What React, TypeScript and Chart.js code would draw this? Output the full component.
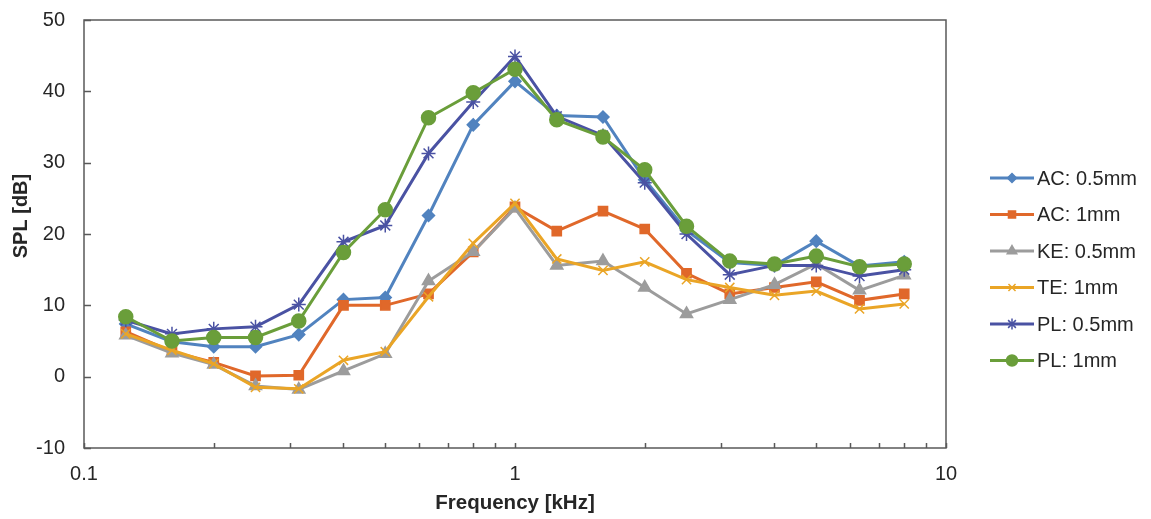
import React, { useEffect, useRef } from "react";
import { Chart, registerables } from "chart.js";
import { drawPoint } from "chart.js/helpers";

Chart.register(...registerables);

// ---- data ----
const FREQS = [0.125, 0.16, 0.2, 0.25, 0.315, 0.4, 0.5, 0.63, 0.8, 1, 1.25, 1.6, 2, 2.5, 3.15, 4, 5, 6.3, 8];
const AC_05 = [7.4, 4.9, 4.2, 4.2, 5.9, 10.8, 11.1, 22.6, 35.3, 41.4, 36.6, 36.4, 27.6, 20.5, 16.0, 15.6, 19.0, 15.5, 16.1];
const AC_1 = [6.3, 3.5, 2.0, 0.1, 0.2, 10.0, 10.0, 11.6, 17.5, 23.8, 20.4, 23.2, 20.7, 14.5, 11.6, 12.5, 13.3, 10.7, 11.6];
const KE_05 = [5.8, 3.3, 1.7, -1.3, -1.8, 0.8, 3.2, 13.4, 17.5, 23.6, 15.6, 16.2, 12.5, 8.8, 10.8, 12.9, 15.8, 12.1, 14.2];
const TE_1 = [6.0, 3.7, 1.8, -1.5, -1.7, 2.3, 3.5, 11.2, 18.7, 24.3, 16.5, 14.9, 16.1, 13.6, 12.5, 11.4, 12.0, 9.5, 10.2];
const PL_05 = [7.9, 6.0, 6.7, 7.0, 10.1, 18.9, 21.2, 31.3, 38.5, 44.9, 36.5, 33.8, 27.2, 20.0, 14.3, 15.6, 15.6, 14.1, 15.0];
const PL_1 = [8.4, 5.0, 5.5, 5.5, 7.8, 17.4, 23.4, 36.3, 39.8, 43.1, 36.0, 33.6, 29.0, 21.1, 16.2, 15.8, 16.9, 15.4, 15.8];

const SERIES_NAMES = ["AC: 0.5mm", "AC: 1mm", "KE: 0.5mm", "TE: 1mm", "PL: 0.5mm", "PL: 1mm"];
const SERIES_VALUES = [AC_05, AC_1, KE_05, TE_1, PL_05, PL_1];

const X_MAJOR_TICKS = [0.1, 1, 10];
const X_MINOR_TICKS = [0.2, 0.3, 0.4, 0.5, 0.6, 0.7, 0.8, 0.9, 2, 3, 4, 5, 6, 7, 8, 9];
const Y_MIN = -10;
const Y_MAX = 50;
const Y_STEP = 10;

const X_TITLE = "Frequency [kHz]";
const Y_TITLE = "SPL [dB]";

// ---- styles ----
const COLORS = ["#5183BF", "#E0682A", "#9C9C9C", "#EAA526", "#4A52A3", "#6A9E3A"];
const POINT_STYLES = ["rectRot", "rect", "triangle", "crossRot", "star", "circle"];
const POINT_RADII = [6, 6.5, 7, 6.5, 7, 7];
const FONT_FAMILY = "'Liberation Sans', Arial, sans-serif";
const TEXT_COLOR = "#262626";
const AXIS_COLOR = "#595959";

const framePlugin = {
  id: "frame",
  afterDraw(chart: any) {
    const { ctx, chartArea } = chart;
    const { left, right, top, bottom } = chartArea;
    const xs = chart.scales.x;
    const ys = chart.scales.y;
    ctx.save();
    ctx.strokeStyle = AXIS_COLOR;
    ctx.lineWidth = 1.5;
    ctx.strokeRect(left, top, right - left, bottom - top);
    ctx.beginPath();
    for (const v of [...X_MAJOR_TICKS, ...X_MINOR_TICKS]) {
      const px = Math.round(xs.getPixelForValue(v)) + 0.5;
      ctx.moveTo(px, bottom);
      ctx.lineTo(px, bottom - 5);
    }
    for (let v = Y_MIN; v <= Y_MAX; v += Y_STEP) {
      const py = Math.round(ys.getPixelForValue(v)) + 0.5;
      ctx.moveTo(left, py);
      ctx.lineTo(left + 7, py);
    }
    ctx.stroke();

    // y-axis title
    ctx.save();
    ctx.translate(21, 216);
    ctx.rotate(-Math.PI / 2);
    ctx.font = `bold 20px ${FONT_FAMILY}`;
    ctx.fillStyle = TEXT_COLOR;
    ctx.textAlign = "center";
    ctx.textBaseline = "middle";
    ctx.fillText(Y_TITLE, 0, 0);
    ctx.restore();

    // legend
    const lx0 = 990;
    const lx1 = 1034;
    const ly0 = 178;
    const lstep = 36.5;
    ctx.font = `20px ${FONT_FAMILY}`;
    ctx.textBaseline = "middle";
    ctx.textAlign = "left";
    SERIES_NAMES.forEach((name, i) => {
      const y = ly0 + i * lstep;
      ctx.strokeStyle = COLORS[i];
      ctx.fillStyle = COLORS[i];
      ctx.lineWidth = 3;
      ctx.beginPath();
      ctx.moveTo(lx0, y);
      ctx.lineTo(lx1, y);
      ctx.stroke();
      ctx.lineWidth = 1.5;
      drawPoint(ctx, { pointStyle: POINT_STYLES[i], radius: POINT_RADII[i] - 1.5, rotation: 0, borderWidth: 1.5 }, (lx0 + lx1) / 2, y);
      ctx.fillStyle = TEXT_COLOR;
      ctx.fillText(name, lx1 + 3, y + 1);
    });
    ctx.restore();
  },
};

export default function App() {
  const canvasRef = useRef<HTMLCanvasElement | null>(null);

  useEffect(() => {
    if (!canvasRef.current) return;
    const datasets = SERIES_NAMES.map((name, i) => ({
      label: name,
      data: FREQS.map((f, j) => ({ x: f, y: SERIES_VALUES[i][j] })),
      borderColor: COLORS[i],
      backgroundColor: COLORS[i],
      pointBackgroundColor: COLORS[i],
      pointBorderColor: COLORS[i],
      pointStyle: POINT_STYLES[i],
      pointRadius: POINT_RADII[i],
      pointBorderWidth: 1.5,
      borderWidth: 3,
      tension: 0,
      order: SERIES_NAMES.length - i,
    }));

    const chart = new Chart(canvasRef.current, {
      type: "line",
      data: { datasets },
      options: {
        animation: false,
        responsive: true,
        maintainAspectRatio: false,
        layout: { padding: { top: 20, right: 205, left: 0, bottom: 0 } },
        plugins: {
          legend: { display: false },
          tooltip: { enabled: false },
        },
        scales: {
          x: {
            type: "logarithmic",
            min: 0.1,
            max: 10,
            grid: { display: false },
            border: { display: false },
            afterBuildTicks: (axis: any) => {
              axis.ticks = X_MAJOR_TICKS.map((v) => ({ value: v }));
            },
            afterFit: (axis: any) => {
              axis.height = 71;
            },
            ticks: {
              autoSkip: false,
              maxRotation: 0,
              padding: 6,
              color: TEXT_COLOR,
              font: { family: FONT_FAMILY, size: 20 },
              callback: (v: any) => String(v),
            },
            title: {
              display: true,
              text: X_TITLE,
              color: TEXT_COLOR,
              font: { family: FONT_FAMILY, size: 20.5, weight: "bold" },
              padding: { top: 0, bottom: 3 },
            },
          },
          y: {
            type: "linear",
            min: Y_MIN,
            max: Y_MAX,
            grid: { display: false },
            border: { display: false },
            afterFit: (axis: any) => {
              axis.width = 84;
              axis.paddingTop = 0;
              axis.paddingBottom = 0;
            },
            ticks: {
              stepSize: Y_STEP,
              padding: 11,
              color: TEXT_COLOR,
              font: { family: FONT_FAMILY, size: 20 },
            },
            title: { display: false, text: Y_TITLE },
          },
        },
      },
      plugins: [framePlugin],
    });
    return () => chart.destroy();
  }, []);

  return (
    <div style={{ position: "fixed", left: 0, top: 0, width: 1151, height: 519, background: "#fff" }}>
      <canvas ref={canvasRef} />
    </div>
  );
}
